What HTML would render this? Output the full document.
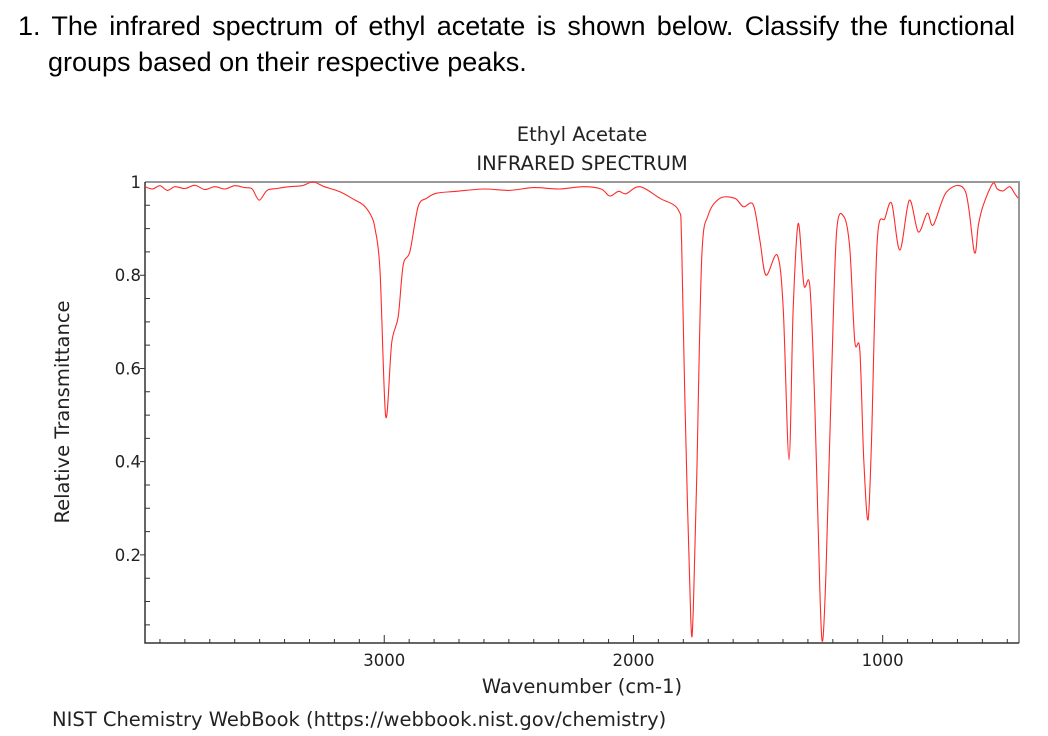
<!DOCTYPE html>
<html><head><meta charset="utf-8">
<style>
html,body{margin:0;padding:0;background:#fff;}
svg{display:block;position:absolute;left:0;top:0;}
.qd{position:absolute;font-family:"Liberation Sans",Arial,sans-serif;font-size:27px;color:#000;line-height:36px;}
.c{font-family:"DejaVu Sans",sans-serif;fill:#222;}
</style></head>
<body>
<div class="qd" style="left:18px;top:8px;width:997px;text-align:justify;text-align-last:justify;white-space:nowrap;">1. The infrared spectrum of ethyl acetate is shown below. Classify the functional</div>
<div class="qd" style="left:48px;top:44px;">groups based on their respective peaks.</div>
<svg id="svg" width="1048" height="736" viewBox="0 0 1048 736" xmlns="http://www.w3.org/2000/svg">
<text class="c" x="582" y="141" font-size="19.5" text-anchor="middle">Ethyl Acetate</text>
<text class="c" x="582" y="170" font-size="19.5" text-anchor="middle">INFRARED SPECTRUM</text>
<text class="c" x="582" y="693" font-size="19.5" text-anchor="middle">Wavenumber (cm-1)</text>
<text class="c" x="0" y="0" font-size="19.5" text-anchor="middle" transform="translate(69,412) rotate(-90)">Relative Transmittance</text>
<text class="c" x="52" y="726" font-size="19.5">NIST Chemistry WebBook (https://webbook.nist.gov/chemistry)</text>
<g id="axes"></g>
<g id="plot"></g>
</svg>
<script>
const wavenumbers=[3960,3930,3900,3870,3840,3800,3760,3720,3680,3640,3600,3560,3530,3502,3470,3430,3380,3330,3286,3240,3178,3120,3085,3055,3037,3017,2994,2970,2944,2924,2897,2864,2830,2790,2710,2600,2500,2400,2300,2200,2130,2095,2060,2030,1974,1894,1820,1807,1793,1770,1760,1746,1726,1700,1653,1593,1559,1519,1492,1468,1423,1399,1376,1359,1339,1316,1292,1272,1252,1241,1228,1205,1185,1156,1132,1112,1092,1076,1059,1045,1022,991,964,931,893,857,821,797,743,669,632,616,596,558,540,517,490,470,456];
const transmittance=[0.99,0.985,0.992,0.982,0.99,0.986,0.993,0.984,0.99,0.985,0.992,0.988,0.985,0.961,0.982,0.986,0.99,0.992,1.0,0.99,0.979,0.962,0.951,0.93,0.90,0.81,0.497,0.655,0.711,0.822,0.851,0.947,0.965,0.976,0.98,0.985,0.982,0.988,0.985,0.99,0.985,0.97,0.98,0.975,0.99,0.965,0.94,0.872,0.515,0.061,0.082,0.372,0.836,0.929,0.965,0.965,0.947,0.951,0.872,0.80,0.843,0.729,0.404,0.729,0.911,0.779,0.775,0.515,0.121,0.015,0.157,0.586,0.893,0.926,0.858,0.658,0.640,0.407,0.275,0.443,0.872,0.922,0.954,0.854,0.961,0.893,0.933,0.908,0.979,0.981,0.849,0.908,0.951,0.997,0.985,0.981,0.99,0.975,0.965];
const xTicks=[3000,2000,1000];
const yTicks=[1,0.8,0.6,0.4,0.2];
const xDomain=[3960,453], yDomain=[0.011,1];
const L=145,R=1019,T=182,B=643;
const sx=v=>L+(xDomain[0]-v)/(xDomain[0]-xDomain[1])*(R-L);
const sy=v=>B-(v-yDomain[0])/(yDomain[1]-yDomain[0])*(B-T);
const NS="http://www.w3.org/2000/svg";
const axes=document.getElementById('axes'), plot=document.getElementById('plot');
function mk(tag,attrs,parent){const e=document.createElementNS(NS,tag);for(const k in attrs)e.setAttribute(k,attrs[k]);parent.appendChild(e);return e;}
const frame=mk('path',{d:`M${L},${T}H${R}V${B}`,fill:'none',stroke:'#999','stroke-width':2},axes);


const ax=mk('path',{d:`M${L},${T}V${B}H${R}`,fill:'none',stroke:'#333','stroke-width':1.5},axes);


let d='';
for(let w=3900;w>xDomain[1];w-=100){const x=sx(w);const major=w%1000===0;d+=`M${x},${B}v${major?-8:-4}`;}
for(let v=0.05;v<1;v+=0.05){const y=sy(v);const major=Math.abs(v*10-Math.round(v*10))<1e-6&&Math.round(v*10)%2===0;d+=`M${L},${y}h${major?-5:5}`;}
const tk=mk('path',{d:d,stroke:'#333','stroke-width':1,fill:'none'},axes);


xTicks.forEach(v=>{const t=mk('text',{x:sx(v),y:B+23,'font-size':16.5,'text-anchor':'middle',class:'c'},axes);t.textContent=v;

});
yTicks.forEach(v=>{const t=mk('text',{x:L-4,y:sy(v)+6,'font-size':16.5,'text-anchor':'end',class:'c'},axes);t.textContent=v===1?'1':v.toFixed(1);

});
const P=wavenumbers.map((w,i)=>[sx(w),sy(transmittance[i])]);
let pd=`M${P[0][0].toFixed(1)},${P[0][1].toFixed(1)}`;
for(let i=0;i<P.length-1;i++){
  const p0=P[Math.max(0,i-1)],p1=P[i],p2=P[i+1],p3=P[Math.min(P.length-1,i+2)];
  const t=0.16;
  const c1=[p1[0]+(p2[0]-p0[0])*t,p1[1]+(p2[1]-p0[1])*t];
  const c2=[p2[0]-(p3[0]-p1[0])*t,p2[1]-(p3[1]-p1[1])*t];
  pd+=`C${c1[0].toFixed(1)},${c1[1].toFixed(1)} ${c2[0].toFixed(1)},${c2[1].toFixed(1)} ${p2[0].toFixed(1)},${p2[1].toFixed(1)}`;
}
const line=mk('path',{d:pd,fill:'none',stroke:'#ff2a2a','stroke-width':1.1,'stroke-linejoin':'round'},plot);


</script>
</body></html>
